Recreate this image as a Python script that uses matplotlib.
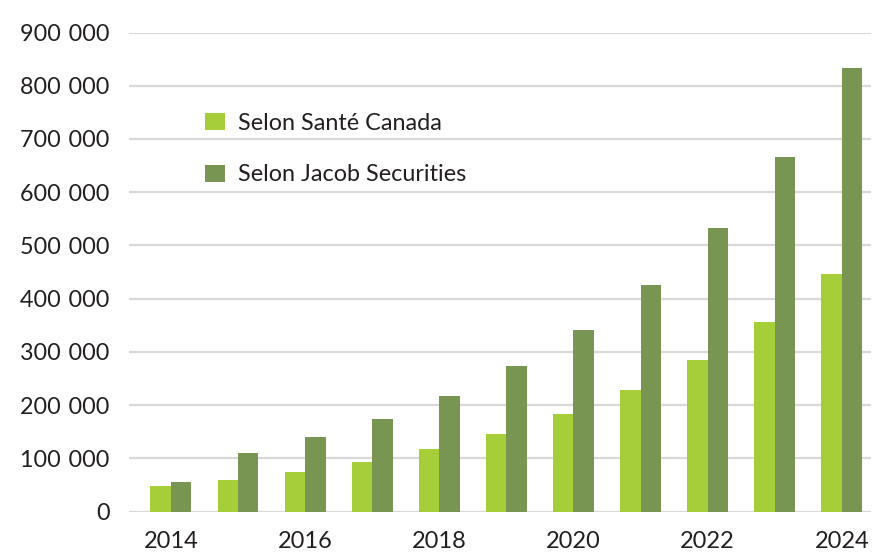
import matplotlib
matplotlib.use("Agg")
import matplotlib.pyplot as plt
from matplotlib.ticker import FuncFormatter, MultipleLocator
import numpy as np

years = [2014, 2015, 2016, 2017, 2018, 2019, 2020, 2021, 2022, 2023, 2024]
sante_canada = [48000, 59000, 74500, 93000, 117000, 146000, 184000, 229000, 285000, 357000, 447000]
jacob_securities = [55000, 111000, 140000, 175000, 218000, 274000, 342000, 426000, 533000, 667000, 833000]
series_labels = ["Selon Santé Canada", "Selon Jacob Securities"]
xtick_years = [2014, 2016, 2018, 2020, 2022, 2024]

plt.rcParams['font.family'] = ['Lato', 'DejaVu Sans']

fig = plt.figure(figsize=(8.93, 5.55), dpi=100)
ax = fig.add_axes([129.3/893, 1-511.7/555, (870.7-129.3)/893, (511.7-32.5)/555])

x = np.array(years, dtype=float)
w = 0.305
light = "#A6CE39"
dark = "#789551"
ax.bar(x - w/2, sante_canada, width=w, color=light, label=series_labels[0], zorder=3)
ax.bar(x + w/2, jacob_securities, width=w, color=dark, label=series_labels[1], zorder=3)

ax.set_ylim(0, 900000)
ax.set_xlim(2014 - 0.62, 2024 + 0.43)
ax.yaxis.set_major_locator(MultipleLocator(100000))
ax.yaxis.set_major_formatter(FuncFormatter(lambda v, p: f"{int(v):,}".replace(",", "\u2004")))
ax.set_xticks(xtick_years)
ax.set_xticklabels([str(y) for y in xtick_years])

for s in ax.spines.values():
    s.set_visible(False)
ax.grid(axis='y', color='#D9D9D9', linewidth=1.6, zorder=0)
ax.set_axisbelow(True)
ax.tick_params(axis='both', length=0, colors='#231F20')
ax.tick_params(axis='y', pad=14, labelsize=16.8)
ax.tick_params(axis='x', pad=14, labelsize=17)

leg = ax.legend(loc='upper left', bbox_to_anchor=(0.074, 0.876), frameon=False,
                fontsize=16.8, handlelength=0.85, handleheight=0.75, handletextpad=0.55,
                labelspacing=1.3, labelcolor='#231F20')

fig.savefig("out.png", dpi=100)
